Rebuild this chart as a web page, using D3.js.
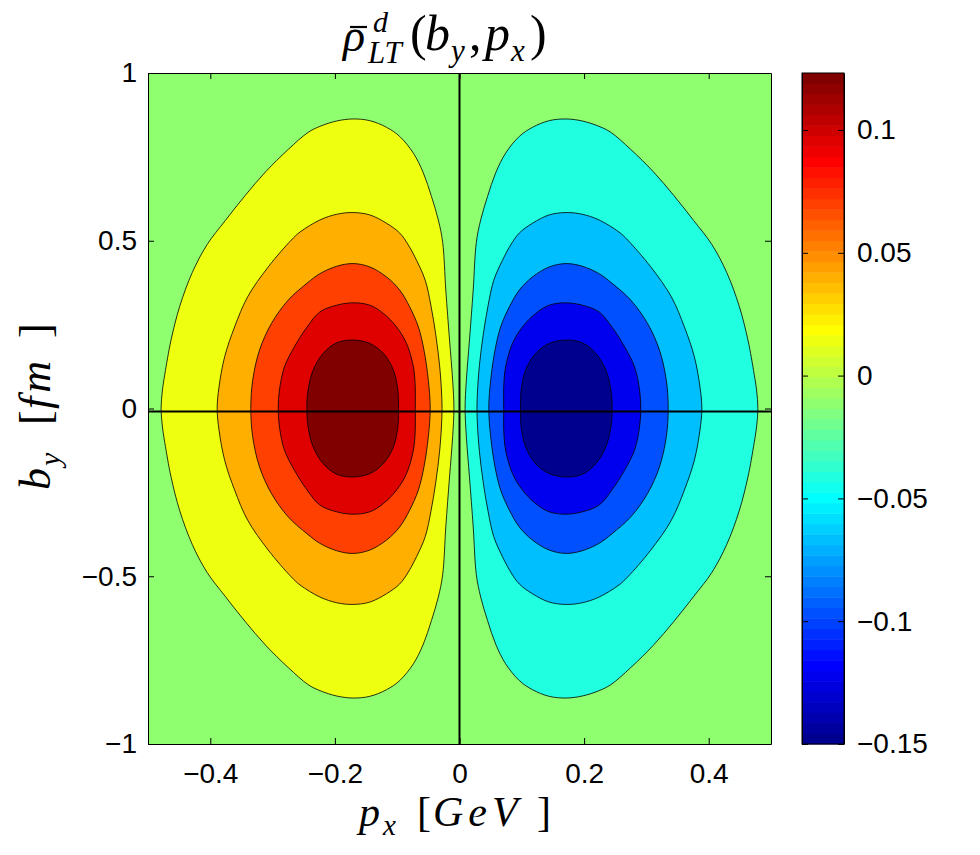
<!DOCTYPE html>
<html>
<head>
<meta charset="utf-8">
<script src="https://cdn.jsdelivr.net/npm/d3@7"></script>
<style>
  body { margin: 0; background: #fff; }
  .tick text { font-family: "Liberation Sans", Arial, sans-serif; }
  .math { font-family: "Liberation Serif", "DejaVu Serif", serif; }
</style>
</head>
<body>
<div id="chart"></div>
<script>
/*********************************************************/
// contour levels (equal steps between colour limits)
const levels = [-0.15, -0.1227, -0.0954, -0.0680, -0.0407, -0.0134, 0.0139, 0.0413, 0.0686, 0.0959, 0.1232];
const colorMin = -0.15;
const colorMax = 0.1232;

// tick values / labels
const xTicks = [-0.4, -0.2, 0, 0.2, 0.4];
const xTickLabels = ["\u22120.4", "\u22120.2", "0", "0.2", "0.4"];
const yTicks = [-1, -0.5, 0, 0.5, 1];
const yTickLabels = ["\u22121", "\u22120.5", "0", "0.5", "1"];
const cbTicks = [-0.15, -0.1, -0.05, 0, 0.05, 0.1];
const cbTickLabels = ["\u22120.15", "\u22120.1", "\u22120.05", "0", "0.05", "0.1"];

// upper halves of the positive lobe contours [p_x, b_y]
// (lower half is the mirror in b_y, the negative lobe is the mirror in p_x)
const contour0139 = [[-0.479,0],[-0.477,0.052],[-0.473,0.102],[-0.463,0.204],[-0.449,0.305],[-0.429,0.405],
  [-0.405,0.489],[-0.376,0.560],[-0.344,0.635],[-0.311,0.706],[-0.275,0.772],[-0.243,0.823],[-0.224,0.841],
  [-0.197,0.857],[-0.171,0.863],[-0.144,0.858],[-0.117,0.838],[-0.096,0.811],[-0.074,0.761],[-0.058,0.702],
  [-0.045,0.632],[-0.034,0.562],[-0.027,0.495],[-0.022,0.353],[-0.016,0.204],[-0.011,0.084],[-0.009,0]];
const contour0413 = [[-0.389,0],[-0.386,0.064],[-0.377,0.154],[-0.361,0.243],[-0.340,0.333],[-0.307,0.422],
  [-0.270,0.502],[-0.256,0.526],[-0.224,0.562],[-0.197,0.579],[-0.171,0.584],[-0.144,0.577],[-0.117,0.552],
  [-0.096,0.523],[-0.083,0.490],[-0.069,0.442],[-0.055,0.382],[-0.046,0.308],[-0.038,0.219],[-0.032,0.129],
  [-0.029,0.055],[-0.028,0]];
const contour0686 = [[-0.335,0],[-0.332,0.084],[-0.321,0.174],[-0.302,0.253],[-0.275,0.323],[-0.245,0.373],
  [-0.224,0.402],[-0.197,0.424],[-0.171,0.432],[-0.144,0.422],[-0.117,0.392],[-0.096,0.353],[-0.080,0.303],
  [-0.066,0.243],[-0.057,0.174],[-0.050,0.084],[-0.047,0]];
const contour0959 = [[-0.291,0],[-0.289,0.055],[-0.281,0.124],[-0.265,0.184],[-0.245,0.242],[-0.224,0.288],
  [-0.197,0.308],[-0.171,0.315],[-0.144,0.308],[-0.122,0.283],[-0.101,0.243],[-0.085,0.194],[-0.074,0.124],
  [-0.071,0.064],[-0.071,0]];
const contour1232 = [[-0.245,0],[-0.243,0.055],[-0.235,0.114],[-0.219,0.164],[-0.197,0.196],[-0.171,0.204],
  [-0.144,0.194],[-0.122,0.164],[-0.106,0.114],[-0.099,0.055],[-0.098,0]];

const lobeContours = [contour0139, contour0413, contour0686, contour0959, contour1232];

// zero lines drawn over the map
const zeroLineX = 0;
const zeroLineY = -0.009;

/*********************************************************/
const svgWidth = 980;
const svgHeight = 855;

const plot = { left: 148, top: 73, right: 771, bottom: 744 };
const bar = { left: 802, right: 844 };

const svg = d3.select("#chart")
  .append("svg")
  .attr("width", svgWidth)
  .attr("height", svgHeight);

const xScale = d3.scaleLinear().domain([-0.5, 0.5]).range([plot.left, plot.right]);
const yScale = d3.scaleLinear().domain([-1, 1]).range([plot.bottom, plot.top]);
const cbScale = d3.scaleLinear().domain([colorMin, colorMax]).range([plot.bottom, plot.top]);

// MATLAB jet(64)
function jetU(j) {
  if (j < 1 || j > 47) return 0;
  if (j <= 16) return j / 16;
  if (j <= 31) return 1;
  return (48 - j) / 16;
}
function jet(i) {
  return d3.rgb(255 * jetU(i - 23), 255 * jetU(i - 7), 255 * jetU(i + 9)).formatHex();
}
function levelColor(v) {
  let i = Math.floor((v - colorMin) / (colorMax - colorMin) * 64 + 1e-6);
  return jet(Math.max(0, Math.min(63, i)));
}

/********** filled contours **********/
const closedLine = d3.line()
  .x(d => xScale(d[0]))
  .y(d => yScale(d[1]))
  .curve(d3.curveCatmullRomClosed.alpha(0.5));

function fullContour(upper, sign) {
  const top = upper.map(d => [sign * d[0], d[1]]);
  const bottom = upper.slice(1, -1).reverse().map(d => [sign * d[0], -d[1]]);
  return top.concat(bottom);
}

// background band (between the two zero-most levels)
svg.append("rect")
  .attr("x", plot.left)
  .attr("y", plot.top)
  .attr("width", plot.right - plot.left)
  .attr("height", plot.bottom - plot.top)
  .attr("fill", levelColor(levels[5]));

const mapGroup = svg.append("g");

// positive lobe: region above level k gets colour of level k
lobeContours.forEach((c, k) => {
  mapGroup.append("path")
    .attr("d", closedLine(fullContour(c, 1)))
    .attr("fill", levelColor(levels[6 + k]))
    .attr("stroke", "#000")
    .attr("stroke-width", 0.8);
});

// negative lobe: region below level k gets colour of the level below it
lobeContours.forEach((c, k) => {
  mapGroup.append("path")
    .attr("d", closedLine(fullContour(c, -1)))
    .attr("fill", levelColor(levels[4 - k]))
    .attr("stroke", "#000")
    .attr("stroke-width", 0.8);
});

// zero lines
svg.append("line")
  .attr("x1", xScale(zeroLineX)).attr("x2", xScale(zeroLineX))
  .attr("y1", plot.top).attr("y2", plot.bottom)
  .attr("stroke", "#000").attr("stroke-width", 2);
svg.append("line")
  .attr("x1", plot.left).attr("x2", plot.right)
  .attr("y1", yScale(zeroLineY)).attr("y2", yScale(zeroLineY))
  .attr("stroke", "#000").attr("stroke-width", 2);

/********** axes **********/
const tickLen = 6;
const fontSize = "28px";

const bottomAxis = d3.axisBottom(xScale).tickValues(xTicks)
  .tickFormat((d, i) => xTickLabels[i]).tickSizeInner(-tickLen).tickSizeOuter(0).tickPadding(19);
const topAxis = d3.axisTop(xScale).tickValues(xTicks)
  .tickFormat("").tickSizeInner(-tickLen).tickSizeOuter(0);
const leftAxis = d3.axisLeft(yScale).tickValues(yTicks)
  .tickFormat((d, i) => yTickLabels[i]).tickSizeInner(-tickLen).tickSizeOuter(0).tickPadding(11);
const rightAxis = d3.axisRight(yScale).tickValues(yTicks)
  .tickFormat("").tickSizeInner(-tickLen).tickSizeOuter(0);

function styleAxis(g) {
  g.selectAll("path.domain").attr("stroke", "#000").attr("stroke-width", 1);
  g.selectAll(".tick line").attr("stroke", "#000").attr("stroke-width", 1);
  g.selectAll(".tick text").attr("font-size", fontSize).attr("fill", "#000");
}

svg.append("g").attr("transform", `translate(0,${plot.bottom})`).call(bottomAxis).call(styleAxis);
svg.append("g").attr("transform", `translate(0,${plot.top})`).call(topAxis).call(styleAxis);
svg.append("g").attr("transform", `translate(${plot.left},0)`).call(leftAxis).call(styleAxis);
svg.append("g").attr("transform", `translate(${plot.right},0)`).call(rightAxis).call(styleAxis);

/********** colorbar **********/
const nColors = 64;
const step = (colorMax - colorMin) / nColors;
svg.append("g")
  .selectAll("rect")
  .data(d3.range(nColors))
  .enter()
  .append("rect")
  .attr("x", bar.left)
  .attr("width", bar.right - bar.left)
  .attr("y", i => cbScale(colorMin + (i + 1) * step))
  .attr("height", i => cbScale(colorMin + i * step) - cbScale(colorMin + (i + 1) * step) + 0.5)
  .attr("fill", i => jet(i));

const cbRight = d3.axisRight(cbScale).tickValues(cbTicks)
  .tickFormat((d, i) => cbTickLabels[i]).tickSizeInner(-tickLen).tickSizeOuter(0).tickPadding(13);
const cbLeft = d3.axisLeft(cbScale).tickValues(cbTicks)
  .tickFormat("").tickSizeInner(-tickLen).tickSizeOuter(0);

svg.append("g").attr("transform", `translate(${bar.right},0)`).call(cbRight).call(styleAxis);
svg.append("g").attr("transform", `translate(${bar.left},0)`).call(cbLeft).call(styleAxis);
svg.append("rect")
  .attr("x", bar.left).attr("y", plot.top)
  .attr("width", bar.right - bar.left).attr("height", plot.bottom - plot.top)
  .attr("fill", "none").attr("stroke", "#000").attr("stroke-width", 1);

/********** labels **********/
// helper: put a piece of math text at a given spot
function mathPiece(parent, x, y, size, italic, str) {
  return parent.append("text")
    .attr("x", x).attr("y", y)
    .attr("font-size", size + "px")
    .attr("font-style", italic ? "italic" : "normal")
    .text(str);
}

// title  rho-bar ^d _LT (b_y, p_x)
const title = svg.append("g").attr("class", "math");
mathPiece(title, 343, 51, 46, true, "\u03C1");
title.append("line").attr("x1", 350).attr("x2", 367).attr("y1", 27).attr("y2", 27)
  .attr("stroke", "#000").attr("stroke-width", 2.2);
mathPiece(title, 373, 32, 30, true, "d");
mathPiece(title, 368, 63, 31, true, "LT");
mathPiece(title, 410, 50, 50, false, "(");
mathPiece(title, 425, 50, 50, true, "b");
mathPiece(title, 451, 61, 31, true, "y");
mathPiece(title, 469, 50, 50, false, ",");
mathPiece(title, 485, 50, 50, true, "p");
mathPiece(title, 511, 61, 31, true, "x");
mathPiece(title, 530, 50, 50, false, ")");

// x label  p_x [GeV]
const xLab = svg.append("g").attr("class", "math");
mathPiece(xLab, 359, 826, 42, true, "p");
mathPiece(xLab, 383, 835, 29, true, "x");
mathPiece(xLab, 417, 826, 42, false, "[");
mathPiece(xLab, 433, 826, 42, true, "GeV").attr("letter-spacing", "5px");
mathPiece(xLab, 537, 826, 42, false, "]");

// y label  b_y [fm]  (rotated)
const yLab = svg.append("g").attr("class", "math")
  .attr("transform", "translate(50,0) rotate(-90)");
mathPiece(yLab, -490, 0, 44, true, "b");
mathPiece(yLab, -466, 10, 30, true, "y");
mathPiece(yLab, -425, 0, 44, false, "[");
mathPiece(yLab, -409, 0, 44, true, "fm").attr("letter-spacing", "4px");
mathPiece(yLab, -338, 0, 44, false, "]");
</script>
</body>
</html>
